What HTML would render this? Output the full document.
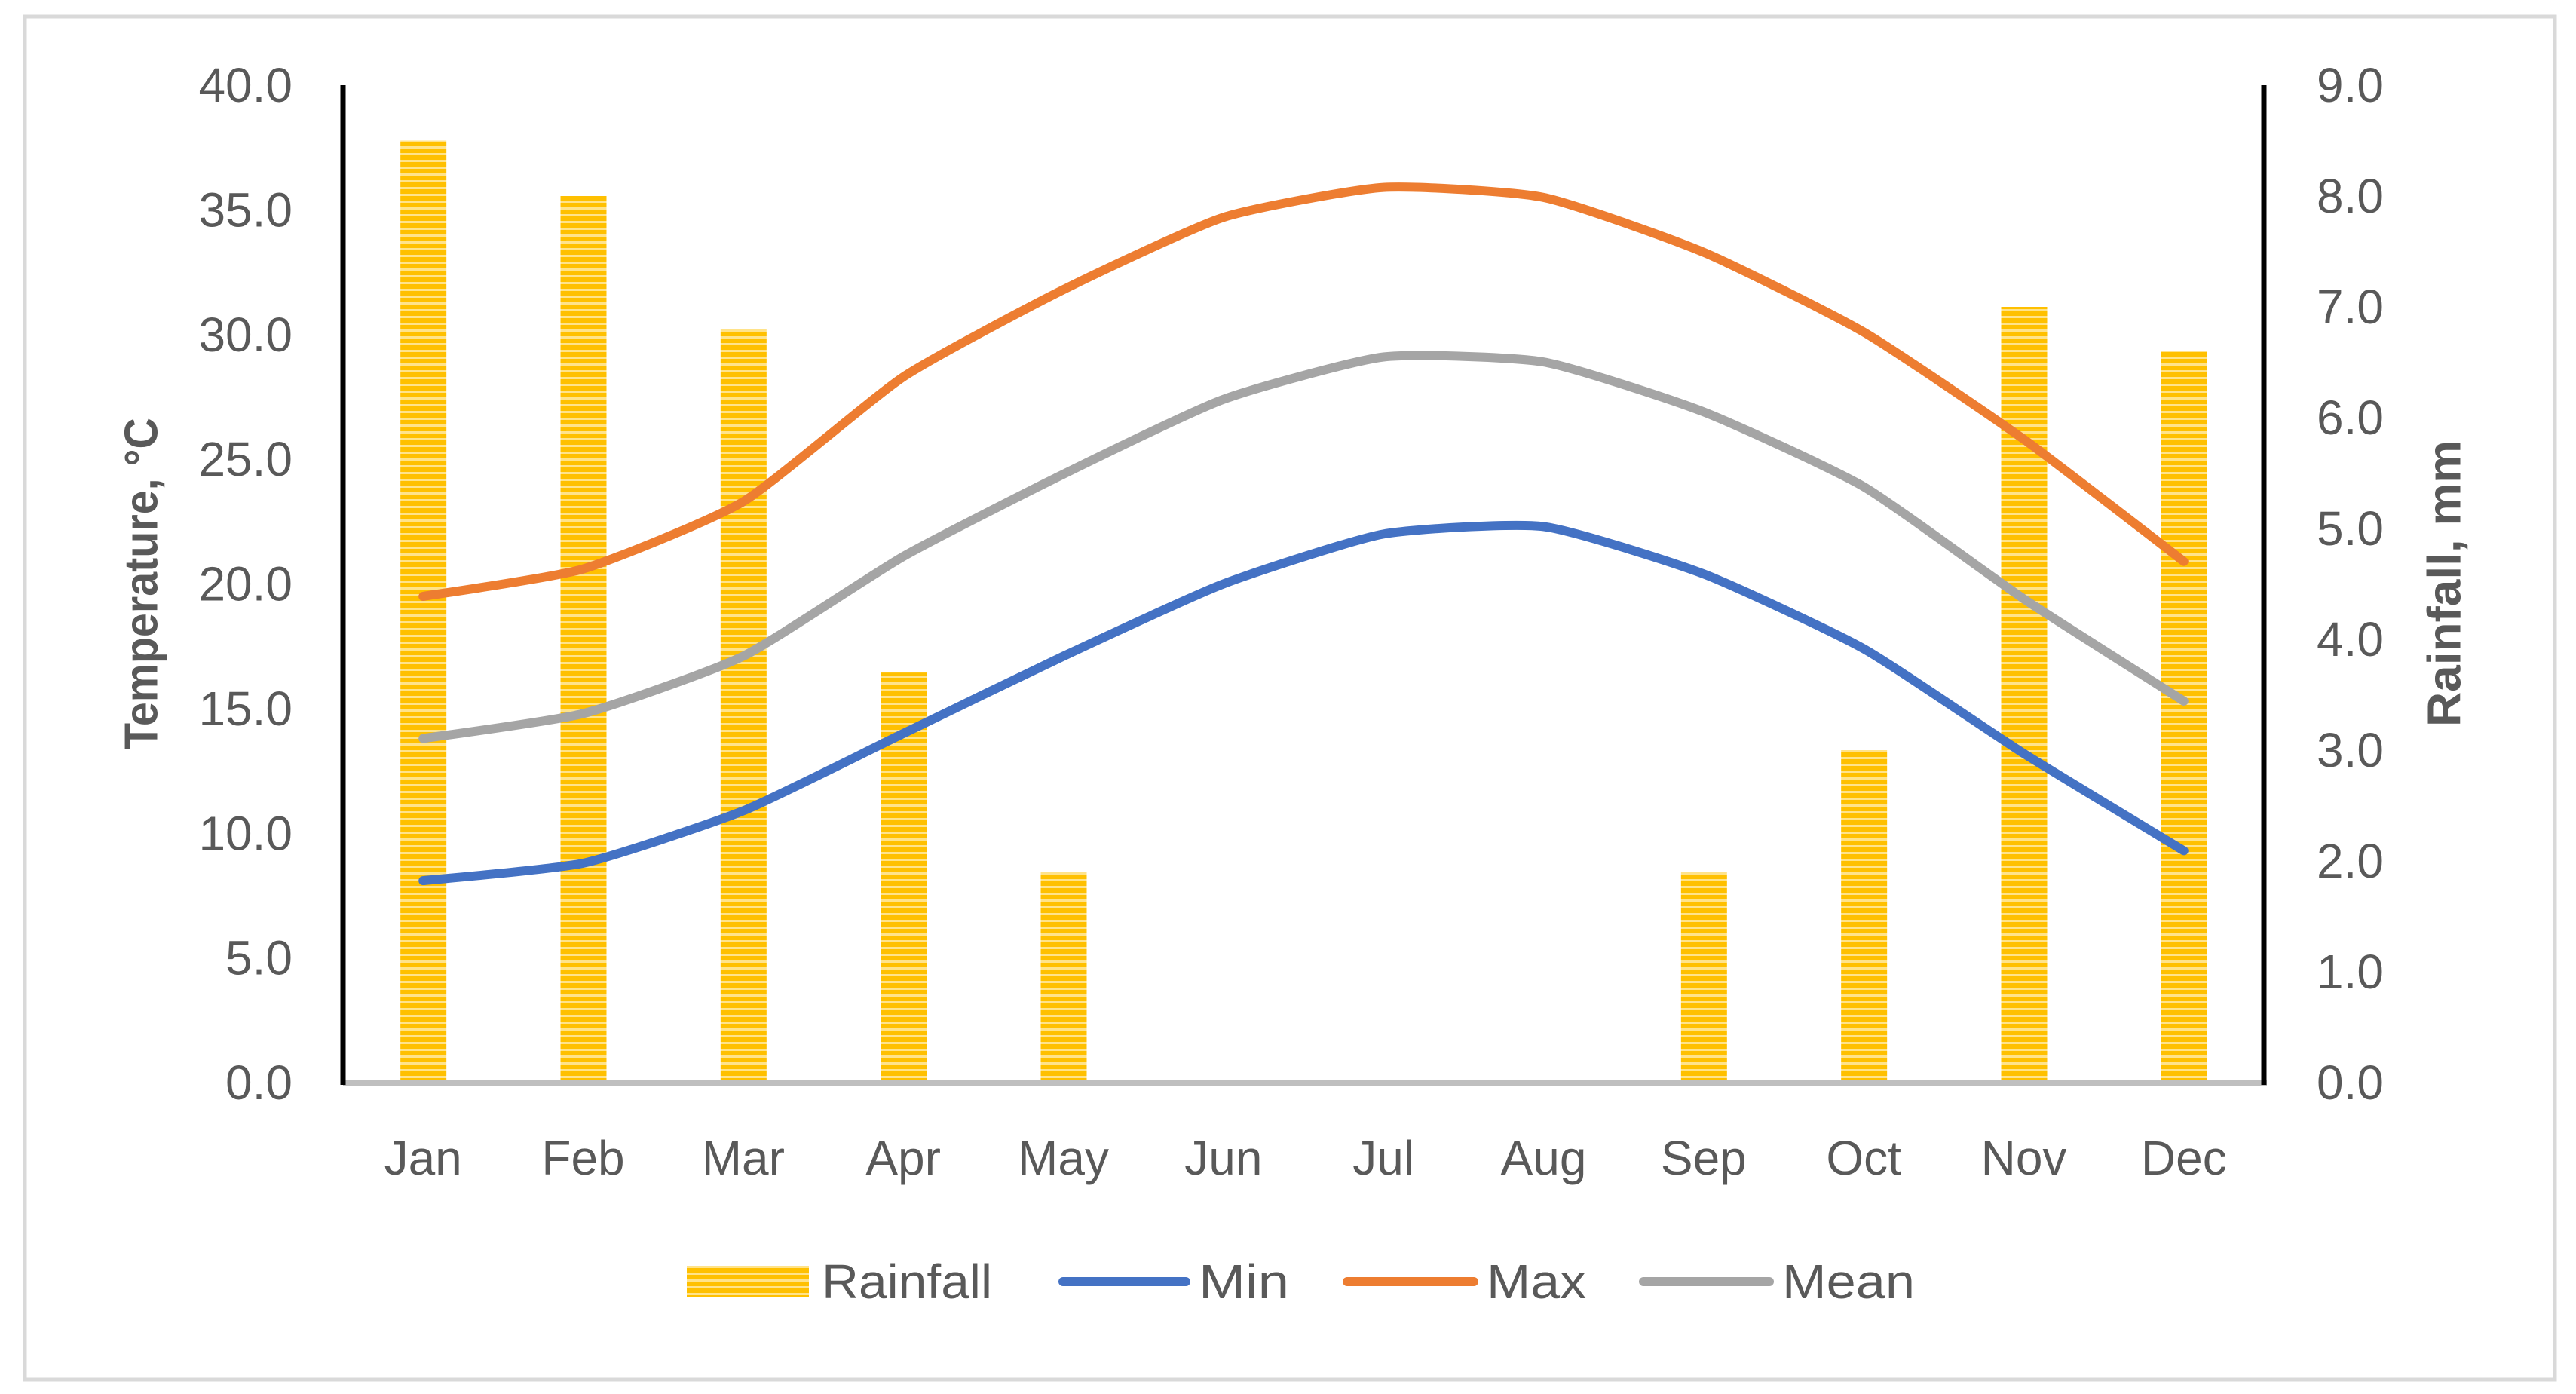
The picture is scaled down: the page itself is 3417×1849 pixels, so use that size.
<!DOCTYPE html>
<html><head><meta charset="utf-8"><style>
html,body{margin:0;padding:0;background:#fff;}
svg{display:block;font-family:"Liberation Sans",sans-serif;}
</style></head><body>
<svg id="chart" width="3417" height="1849" viewBox="0 0 3417 1849">
<defs>
<pattern id="stripes" width="8" height="9" patternUnits="userSpaceOnUse">
<rect width="8" height="9" fill="#ffc000"/>
<rect y="5" width="8" height="3" fill="#ffe38a"/>
</pattern>
</defs>
<rect x="33" y="22" width="3356" height="1808" fill="#fff" stroke="#d9d9d9" stroke-width="5"/>
<g id="bars"></g>
<g id="lines"></g>
<g id="axes"></g>
<text x="192" y="774" transform="rotate(-90 192 774)" text-anchor="middle" dominant-baseline="middle" font-size="62" font-weight="bold" fill="#595959" textLength="440" lengthAdjust="spacingAndGlyphs">Temperature, °C</text>
<text x="3247" y="774" transform="rotate(-90 3247 774)" text-anchor="middle" dominant-baseline="middle" font-size="62" font-weight="bold" fill="#595959" textLength="380" lengthAdjust="spacingAndGlyphs">Rainfall, mm</text>
<g>
<g><rect x="911" y="1679" width="162" height="42" fill="url(#stripes)"/><text x="1090" y="1722" font-size="64" fill="#595959" textLength="226" lengthAdjust="spacingAndGlyphs">Rainfall</text></g>
<g><line x1="1410" y1="1700" x2="1573" y2="1700" stroke="#4472c4" stroke-width="12" stroke-linecap="round"/><text x="1590" y="1722" font-size="64" fill="#595959" textLength="120" lengthAdjust="spacingAndGlyphs">Min</text></g>
<g><line x1="1787" y1="1700" x2="1955" y2="1700" stroke="#ed7d31" stroke-width="12" stroke-linecap="round"/><text x="1972" y="1722" font-size="64" fill="#595959" textLength="132" lengthAdjust="spacingAndGlyphs">Max</text></g>
<g><line x1="2180" y1="1700" x2="2347" y2="1700" stroke="#a5a5a5" stroke-width="12" stroke-linecap="round"/><text x="2364" y="1722" font-size="64" fill="#595959" textLength="176" lengthAdjust="spacingAndGlyphs">Mean</text></g>
</g>
</svg>
<script>
const months = ["Jan","Feb","Mar","Apr","May","Jun","Jul","Aug","Sep","Oct","Nov","Dec"];
const rainfall = [8.5,8.0,6.8,3.7,1.9,0,0,0,1.9,3.0,7.0,6.6];
const tMin = [8.1,8.8,10.9,14.0,17.1,20.0,22.0,22.3,20.4,17.4,13.2,9.3];
const tMax = [19.5,20.6,23.3,28.3,31.8,34.7,35.9,35.5,33.3,30.1,25.8,20.9];
const tMean = [13.8,14.8,17.1,21.1,24.4,27.4,29.1,28.9,26.9,23.9,19.4,15.3];
const leftTicks = ["0.0","5.0","10.0","15.0","20.0","25.0","30.0","35.0","40.0"];
const rightTicks = ["0.0","1.0","2.0","3.0","4.0","5.0","6.0","7.0","8.0","9.0"];

const NS="http://www.w3.org/2000/svg";
const L=455,R=3003,T=113,B=1436;
const xC=i=>L+(R-L)/months.length*(i+0.5);
const yT=v=>B-(B-T)*v/40;
const yR=v=>B-(B-T)*v/9;
function mk(tag,attrs,parent){const e=document.createElementNS(NS,tag);for(const k in attrs)e.setAttribute(k,attrs[k]);parent.appendChild(e);return e;}
const bars=document.getElementById('bars'),lines=document.getElementById('lines'),axes=document.getElementById('axes');

rainfall.forEach((v,i)=>{
  if(v<=0)return;
  const r=mk('rect',{x:xC(i)-30,y:yR(v),width:61,height:B-yR(v),fill:'url(#stripes)'},bars);
  
  
});

function smooth(vals){
  const p=vals.map((v,i)=>[xC(i),yT(v)]);
  let d='M'+p[0][0]+','+p[0][1];
  for(let i=0;i<p.length-1;i++){
    const p0=p[i-1]||p[i],p1=p[i],p2=p[i+1],p3=p[i+2]||p2;
    const t=0.09;
    d+=' C'+(p1[0]+(p2[0]-p0[0])*t)+','+(p1[1]+(p2[1]-p0[1])*t)+' '+(p2[0]-(p3[0]-p1[0])*t)+','+(p2[1]-(p3[1]-p1[1])*t)+' '+p2[0]+','+p2[1];
  }
  return d;
}
[[tMin,'#4472c4','line-min'],[tMax,'#ed7d31','line-max'],[tMean,'#a5a5a5','line-mean']].forEach(([vals,c,n])=>{
  const p=mk('path',{d:smooth(vals),fill:'none',stroke:c,'stroke-width':12,'stroke-linecap':'round','stroke-linejoin':'round'},lines);
  
  
});

const xl=mk('line',{x1:L,y1:B,x2:R+4,y2:B,stroke:'#bfbfbf','stroke-width':8},axes);


const ll=mk('line',{x1:L,y1:T,x2:L,y2:B+3,stroke:'#000','stroke-width':7},axes);


const rl=mk('line',{x1:R,y1:T,x2:R,y2:B+3,stroke:'#000','stroke-width':7},axes);



leftTicks.forEach((t,i)=>{
  const e=mk('text',{x:388,y:yT(i*5)+22,'text-anchor':'end','font-size':64,fill:'#595959'},axes);
  e.textContent=t;
  
  
});
rightTicks.forEach((t,i)=>{
  const e=mk('text',{x:3073,y:yR(i)+22,'text-anchor':'start','font-size':64,fill:'#595959'},axes);
  e.textContent=t;
  
  
});
months.forEach((m,i)=>{
  const e=mk('text',{x:xC(i),y:1558,'text-anchor':'middle','font-size':64,fill:'#595959'},axes);
  e.textContent=m;
  
  
});
</script>
</body></html>
